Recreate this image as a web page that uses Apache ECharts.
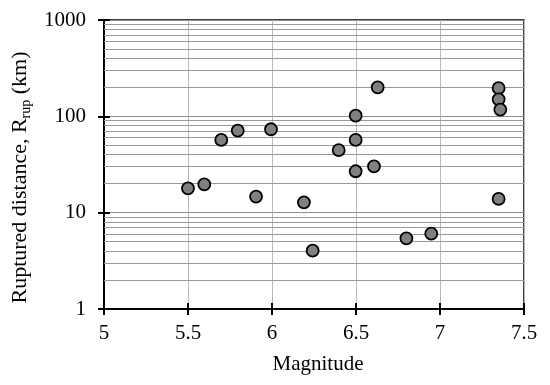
<!DOCTYPE html>
<html><head><meta charset="utf-8">
<script src="https://cdn.jsdelivr.net/npm/echarts@6/dist/echarts.min.js"></script>
<style>html,body{margin:0;padding:0;background:#fff}#c{width:550px;height:385px}</style>
</head><body><div id="c"></div>
<script>
const magnitude = [5.5, 5.597, 5.698, 5.796, 5.905, 5.994, 6.19, 6.242, 6.397, 6.498, 6.498, 6.498, 6.607, 6.629, 6.80, 6.948, 7.349, 7.349, 7.359, 7.349];
const rupDistance = [17.9, 19.7, 56.9, 71.1, 14.7, 73.4, 12.8, 4.03, 44.5, 101.6, 56.9, 26.9, 30.3, 200, 5.42, 6.05, 196, 150, 117.4, 13.9];
const minorGridValues = [2,3,4,5,6,7,8,9,20,30,40,50,60,70,80,90,200,300,400,500,600,700,800,900];
const xTicks = [5, 5.5, 6, 6.5, 7, 7.5];
const yTicks = [1, 10, 100, 1000];

const FONT = '"Liberation Serif", "Times New Roman", serif';
const chart = echarts.init(document.getElementById('c'), null, {renderer: 'canvas'});
const pts = magnitude.map((m, i) => [m, rupDistance[i]]);

chart.setOption({
  animation: false,
  grid: {left: 104, right: 26, top: 20, bottom: 76, show: true, borderColor: '#000', borderWidth: 1.5,
    backgroundColor: 'transparent', containLabel: false, outerBoundsMode: 'none'},
  xAxis: [{
    type: 'value', min: 5, max: 7.5, interval: 0.5,
    name: 'Magnitude', nameLocation: 'middle', nameGap: 45,
    nameTextStyle: {fontFamily: FONT, fontSize: 21, color: '#000', padding: [0, 0, 0, 8]},
    axisLine: {show: true, lineStyle: {color: '#000', width: 2}},
    axisTick: {show: true, length: 6, lineStyle: {color: '#000', width: 2}},
    axisLabel: {fontFamily: FONT, fontSize: 21, color: '#000', margin: 14,
      formatter: v => xTicks.indexOf(v) >= 0 ? String(v) : ''},
    splitLine: {show: true, lineStyle: {color: '#b8b8b8', width: 1}}
  }, {
    type: 'value', min: 5, max: 7.5, interval: 0.5, position: 'bottom',
    axisLine: {show: false}, axisLabel: {show: false}, splitLine: {show: false},
    axisTick: {show: true, inside: true, length: 6, lineStyle: {color: '#000', width: 2}}
  }],
  yAxis: [{
    type: 'log', logBase: 10, min: 1, max: 1000, interval: 1,
    name: '{a|Ruptured distance, R}{s|rup}{a| (km)}',
    nameLocation: 'middle', nameGap: 67, nameRotate: 90,
    nameTextStyle: {fontFamily: FONT, fontSize: 22, color: '#000', padding: [0, 26, 0, 0],
      rich: {
        a: {fontFamily: FONT, fontSize: 22, color: '#000', lineHeight: 26, verticalAlign: 'middle'},
        s: {fontFamily: FONT, fontSize: 14, color: '#000', lineHeight: 26, verticalAlign: 'bottom', padding: [14, 0, 0, 0]}
      }},
    axisLine: {show: true, lineStyle: {color: '#000', width: 2}},
    axisTick: {show: true, length: 6, lineStyle: {color: '#000', width: 2}},
    axisLabel: {fontFamily: FONT, fontSize: 21, color: '#000', margin: 18,
      formatter: v => yTicks.indexOf(Math.round(v)) >= 0 ? String(Math.round(v)) : ''},
    splitLine: {show: true, lineStyle: {color: '#8c8c8c', width: 1}},
    minorTick: {show: false}, minorSplitLine: {show: false}
  }, {
    type: 'log', logBase: 10, min: 1, max: 1000, interval: 1, position: 'left',
    axisLine: {show: false}, axisLabel: {show: false}, splitLine: {show: false},
    axisTick: {show: true, inside: true, length: 6, lineStyle: {color: '#000', width: 2}}
  }],
  series: [{
    type: 'scatter', xAxisIndex: 0, yAxisIndex: 0, data: [],
    silent: true,
    markLine: {
      silent: true, symbol: ['none', 'none'], label: {show: false},
      lineStyle: {color: '#999999', width: 1, type: 'solid'},
      data: minorGridValues.map(v => ({yAxis: v}))
    }
  }, {
    type: 'scatter', xAxisIndex: 0, yAxisIndex: 0, data: pts,
    symbol: 'circle', symbolSize: 12,
    itemStyle: {color: '#808080', borderColor: '#000', borderWidth: 1.8, opacity: 1},
    z: 5
  }]
});
</script></body></html>
